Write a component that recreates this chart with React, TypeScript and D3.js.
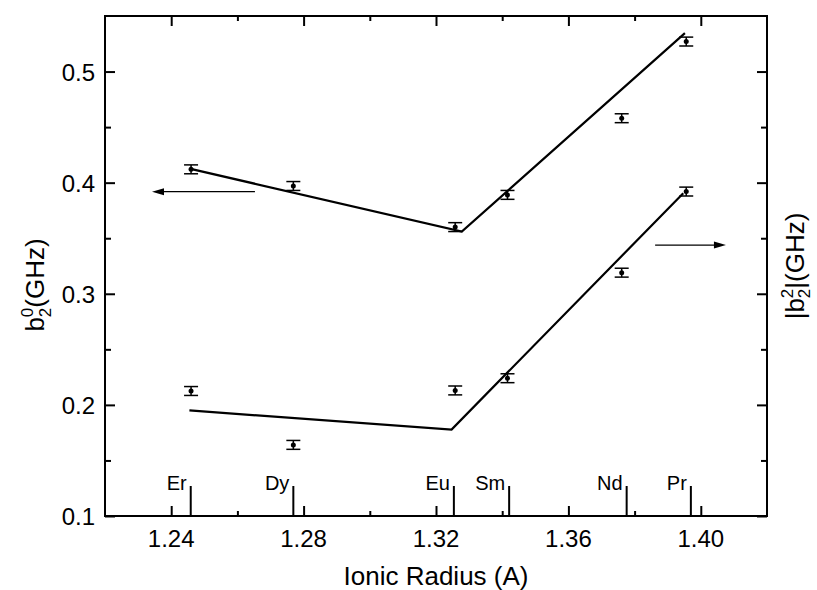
import { useRef, useEffect } from "react";
import { select, scaleLinear, axisBottom, axisTop, axisLeft, axisRight, line } from "d3";

const W = 817;
const H = 590;
const margin = { top: 16, right: 50, bottom: 74, left: 105 };
const FONT = "'Liberation Sans', Arial, Helvetica, sans-serif";

// rare-earth ions and their ionic radii (A)
const elements = ["Er", "Dy", "Eu", "Sm", "Nd", "Pr"];
const pointRadius = [1.246, 1.2769, 1.3258, 1.3416, 1.3761, 1.3956];
const labelRadius = [1.2459, 1.2769, 1.3254, 1.3421, 1.3776, 1.397];

// b2^0 (left axis) and |b2^2| (right axis), GHz
const b20 = [0.412, 0.397, 0.36, 0.389, 0.458, 0.527];
const b20Err = [0.004, 0.004, 0.004, 0.004, 0.004, 0.004];
const b22 = [0.2125, 0.164, 0.213, 0.224, 0.319, 0.392];
const b22Err = [0.004, 0.004, 0.004, 0.004, 0.004, 0.004];

// fitted lines
const fitB20X = [1.2462, 1.3278, 1.3952];
const fitB20Y = [0.4122, 0.3559, 0.5346];
const fitB22X = [1.2455, 1.3247, 1.3947];
const fitB22Y = [0.195, 0.1778, 0.3905];

const xMajor = [1.24, 1.28, 1.32, 1.36, 1.4];
const xMinor = [1.26, 1.3, 1.34, 1.38];
const yMajor = [0.1, 0.2, 0.3, 0.4, 0.5];
const yMinor = [0.15, 0.25, 0.35, 0.45];

export default function App() {
  const svgRef = useRef<SVGSVGElement>(null);

  useEffect(() => {
    const svg = select(svgRef.current);
    const x = scaleLinear().domain([1.22, 1.42]).range([margin.left, W - margin.right]);
    const y = scaleLinear().domain([0.1, 0.55]).range([H - margin.bottom, margin.top]);
    const x0 = margin.left, x1 = W - margin.right, y0 = H - margin.bottom, y1 = margin.top;

    const g = svg.select(".chart");
    g.selectAll("*").remove();

    // ticks (inward)
    const tickStyle = (sel: any) => {
      sel.select(".domain").remove();
      sel.selectAll("line").attr("stroke", "#000").attr("stroke-width", 2);
      sel.selectAll("text").remove();
    };
    g.append("g").attr("transform", `translate(0,${y0})`)
      .call(axisBottom(x).tickValues(xMajor).tickSize(-10)).call(tickStyle);
    g.append("g").attr("transform", `translate(0,${y0})`)
      .call(axisBottom(x).tickValues(xMinor).tickSize(-5)).call(tickStyle);
    g.append("g").attr("transform", `translate(0,${y1})`)
      .call(axisTop(x).tickValues(xMajor).tickSize(-10)).call(tickStyle);
    g.append("g").attr("transform", `translate(0,${y1})`)
      .call(axisTop(x).tickValues(xMinor).tickSize(-5)).call(tickStyle);
    g.append("g").attr("transform", `translate(${x0},0)`)
      .call(axisLeft(y).tickValues(yMajor).tickSize(-10)).call(tickStyle);
    g.append("g").attr("transform", `translate(${x0},0)`)
      .call(axisLeft(y).tickValues(yMinor).tickSize(-6)).call(tickStyle);
    g.append("g").attr("transform", `translate(${x1},0)`)
      .call(axisRight(y).tickValues(yMajor).tickSize(-10)).call(tickStyle);
    g.append("g").attr("transform", `translate(${x1},0)`)
      .call(axisRight(y).tickValues(yMinor).tickSize(-6)).call(tickStyle);

    // frame
    g.append("rect")
      .attr("x", x0).attr("y", y1)
      .attr("width", x1 - x0).attr("height", y0 - y1)
      .attr("fill", "none").attr("stroke", "#000").attr("stroke-width", 2);

    // tick labels
    g.selectAll(".xlab").data(xMajor).join("text")
      .attr("x", d => x(d)).attr("y", y0 + 31)
      .attr("text-anchor", "middle")
      .style("font-size", "24px")
      .text(d => d.toFixed(2));
    g.selectAll(".ylab").data(yMajor).join("text")
      .attr("x", x0 - 10).attr("y", d => y(d) + 9)
      .attr("text-anchor", "end")
      .style("font-size", "24px")
      .text(d => d.toFixed(1));

    // element markers
    g.selectAll(".el-line").data(labelRadius).join("line")
      .attr("x1", d => x(d)).attr("x2", d => x(d))
      .attr("y1", y0).attr("y2", y0 - 30)
      .attr("stroke", "#000").attr("stroke-width", 2);
    g.selectAll(".el-text").data(elements).join("text")
      .attr("x", (_, i) => x(labelRadius[i]) - 4)
      .attr("y", y0 - 26)
      .attr("text-anchor", "end")
      .style("font-size", "20px")
      .text(d => d);

    // fitted lines
    const ln = line<number[]>().x(d => x(d[0])).y(d => y(d[1]));
    [[fitB20X, fitB20Y], [fitB22X, fitB22Y]].forEach(([fx, fy]) => {
      g.append("path")
        .attr("d", ln(fx.map((v, i) => [v, fy[i]])))
        .attr("fill", "none").attr("stroke", "#000").attr("stroke-width", 2.2);
    });

    // error bars + points
    [[b20, b20Err], [b22, b22Err]].forEach(([vals, errs]) => {
      const s = g.append("g");
      vals.forEach((v, i) => {
        const cx = x(pointRadius[i]);
        const yt = y(v + errs[i]), yb = y(v - errs[i]);
        s.append("line").attr("x1", cx).attr("x2", cx).attr("y1", yt).attr("y2", yb)
          .attr("stroke", "#000").attr("stroke-width", 1.5);
        [yt, yb].forEach(yy => {
          s.append("line").attr("x1", cx - 7).attr("x2", cx + 7).attr("y1", yy).attr("y2", yy)
            .attr("stroke", "#000").attr("stroke-width", 1.5);
        });
        s.append("circle").attr("cx", cx).attr("cy", y(v)).attr("r", 2.5).attr("fill", "#000");
      });
    });

    // arrows
    const arrow = (xa: number, xb: number, yv: number) => {
      const ax = x(xa), bx = x(xb), ay = y(yv);
      const dir = Math.sign(bx - ax);
      g.append("line").attr("x1", ax).attr("x2", bx - dir * 8).attr("y1", ay).attr("y2", ay)
        .attr("stroke", "#000").attr("stroke-width", 1.3);
      g.append("path")
        .attr("d", `M${bx},${ay} L${bx - dir * 12},${ay - 3.5} L${bx - dir * 12},${ay + 3.5} Z`)
        .attr("fill", "#000");
    };
    arrow(1.2653, 1.2342, 0.3919);
    arrow(1.3862, 1.4076, 0.3438);

    // axis titles
    g.append("text")
      .attr("x", (x0 + x1) / 2).attr("y", y0 + 69)
      .attr("text-anchor", "middle")
      .style("font-size", "26px")
      .text("Ionic Radius (A)");

    const yl = g.append("text")
      .attr("transform", `translate(44,285) rotate(-90)`)
      .attr("text-anchor", "middle")
      .style("font-size", "26px");
    yl.append("tspan").text("b");
    yl.append("tspan").attr("dy", 7).style("font-size", "17px").text("2");
    yl.append("tspan").attr("dx", -9.5).attr("dy", -18).style("font-size", "17px").text("0");
    yl.append("tspan").attr("dy", 11).text("(GHz)");

    const yr = g.append("text")
      .attr("transform", `translate(804,266) rotate(-90)`)
      .attr("text-anchor", "middle")
      .style("font-size", "26px");
    yr.append("tspan").text("|b");
    yr.append("tspan").attr("dy", -11).style("font-size", "17px").text("2");
    yr.append("tspan").attr("dx", -9.5).attr("dy", 17).style("font-size", "17px").text("2");
    yr.append("tspan").attr("dy", -6).text("|(GHz)");
  }, []);

  return (
    <svg
      ref={svgRef}
      width={W}
      height={H}
      style={{ position: "absolute", left: 0, top: 0, background: "#fff", fontFamily: FONT }}
    >
      <g className="chart" />
    </svg>
  );
}
